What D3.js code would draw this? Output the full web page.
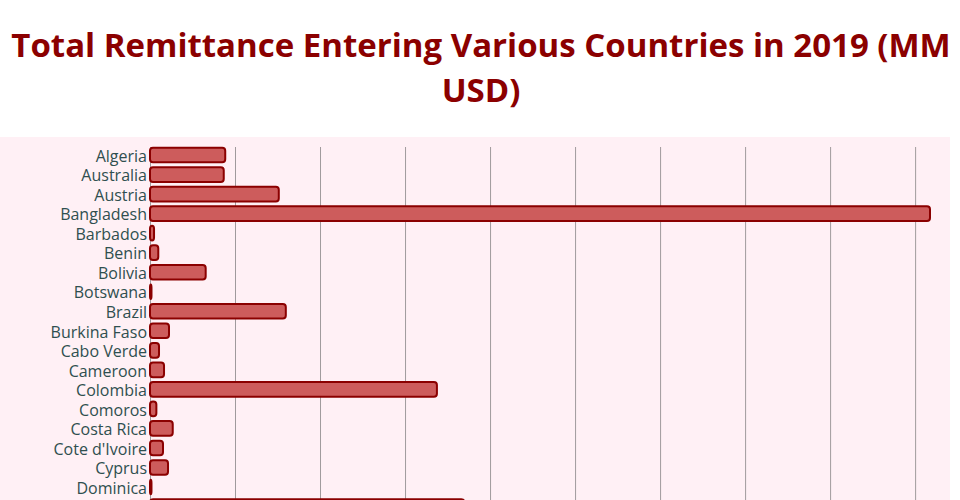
<!DOCTYPE html>
<html>
<head>
<meta charset="utf-8">
<script src="https://cdn.jsdelivr.net/npm/d3@7"></script>
<style>
  html, body { margin: 0; padding: 0; background: #ffffff; overflow: hidden; }
  svg { display: block; }
</style>
</head>
<body>
<svg id="chart" width="960" height="500"></svg>
<script>
const countries = ["Algeria","Australia","Austria","Bangladesh","Barbados","Benin","Bolivia","Botswana","Brazil","Burkina Faso","Cabo Verde","Cameroon","Colombia","Comoros","Costa Rica","Cote d'Ivoire","Cyprus","Dominica","Dominican Republic"];
const remittance = [1770,1735,3030,18350,95,195,1310,35,3195,447,212,330,6750,150,535,306,424,35,7395];
const xTicks = [0,2000,4000,6000,8000,10000,12000,14000,16000,18000];
const titleLines = ["Total Remittance Entering Various Countries in 2019 (MM", "USD)"];

const data = countries.map((c, i) => ({country: c, value: remittance[i]}));
const svg = d3.select("#chart");

// title
const title = svg.append("text")
  .attr("text-anchor", "middle")
  .attr("font-family", "'Open Sans', sans-serif")
  .attr("font-weight", "bold")
  .attr("font-size", 33)
  .attr("fill", "#8b0000");
titleLines.forEach((t, i) => {
  title.append("tspan").attr("x", 481).attr("y", 57 + i * 45).text(t);
});

// plot background
svg.append("rect")
  .attr("x", 0).attr("y", 137)
  .attr("width", 950).attr("height", 400)
  .attr("fill", "#fff0f5");

const step = 19.53;
const y = d3.scaleBand()
  .domain(countries)
  .range([147.7, 147.7 + step * (countries.length - 0.25)])
  .paddingInner(0.25)
  .paddingOuter(0);

const x = d3.scaleLinear()
  .domain([0, d3.max(remittance)])
  .range([150, 930]);

// grid
svg.append("g")
  .attr("transform", "translate(0,147)")
  .call(d3.axisBottom(x).tickValues(xTicks).tickSize(400).tickFormat(""))
  .call(g => g.select(".domain").remove())
  .call(g => g.selectAll(".tick line").attr("stroke", "#a09a9c").attr("stroke-width", 1));

// bars
svg.append("g")
  .selectAll("rect")
  .data(data)
  .join("rect")
  .attr("x", x(0))
  .attr("y", d => y(d.country))
  .attr("width", d => x(d.value) - x(0))
  .attr("height", y.bandwidth())
  .attr("rx", 3).attr("ry", 3)
  .attr("fill", "#cd5c5c")
  .attr("stroke", "#8b0000")
  .attr("stroke-width", 2);

// y axis labels
svg.append("g")
  .attr("transform", `translate(${x(0)},0)`)
  .call(d3.axisLeft(y).tickSize(0).tickPadding(3))
  .call(g => g.select(".domain").remove())
  .call(g => g.selectAll(".tick text")
    .attr("font-family", "'Open Sans', sans-serif")
    .attr("font-size", 16)
    .attr("fill", "#2f4f4f")
    .attr("dy", "0.42em"));
</script>
</body>
</html>
